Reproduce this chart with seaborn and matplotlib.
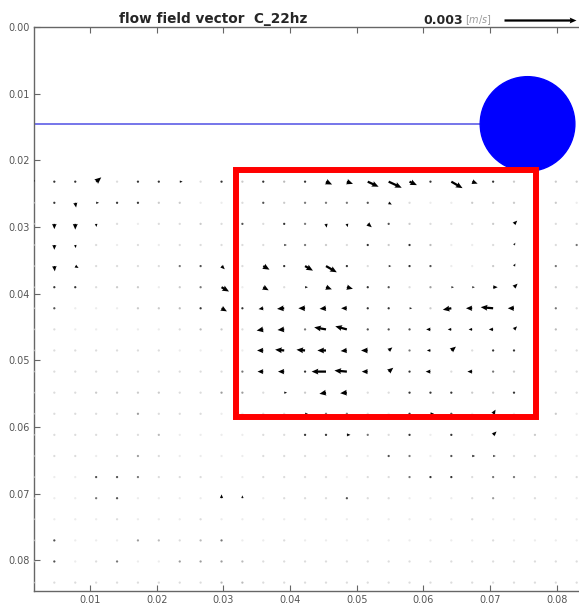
import numpy as np
import matplotlib
matplotlib.use("Agg")
import matplotlib.pyplot as plt
from matplotlib.patches import Circle, Rectangle
from matplotlib.colors import LinearSegmentedColormap, Normalize
import seaborn as sns

# PIV interrogation-window centres (m)
x_coords = [0.00152, 0.00465, 0.00779, 0.01092, 0.01406, 0.01719, 0.02032, 0.02346, 0.02659,
            0.02973, 0.03286, 0.03599, 0.03913, 0.04226, 0.04540, 0.04853, 0.05166, 0.05480,
            0.05793, 0.06107, 0.06420, 0.06733, 0.07047, 0.07360, 0.07674, 0.07987, 0.08300]
y_coords = [0.02320, 0.02637, 0.02953, 0.03270, 0.03586, 0.03903, 0.04219, 0.04536, 0.04852,
            0.05169, 0.05485, 0.05802, 0.06118, 0.06435, 0.06751, 0.07068, 0.07384, 0.07701,
            0.08017, 0.08334]

# mean speed per window, in 1e-4 m/s (rows follow y_coords, columns follow x_coords)
speed = [
    [1.5, 1.0, 1.0, 2.8, 0.4, 1.0, 1.0, 1.2, 0.4, 1.0, 0.5, 1.0, 0.6, 1.0, 2.8, 2.7, 5.0, 6.0, 3.4, 1.0, 5.4, 2.4, 1.0, 0.5, 1.0, 0.5, 0.5],
    [0.3, 1.0, 2.0, 1.2, 1.0, 1.0, 0.5, 0.5, 0.3, 0.3, 0.4, 0.9, 0.5, 0.8, 0.8, 0.8, 0.9, 1.5, 0.4, 0.3, 0.3, 0.5, 0.5, 0.5, 0.6, 0.5, 0.3],
    [0.3, 2.2, 2.4, 1.3, 0.4, 0.3, 0.4, 0.4, 0.5, 0.4, 0.9, 0.4, 1.0, 0.8, 1.6, 1.4, 2.2, 0.9, 0.5, 0.4, 0.4, 0.4, 0.5, 1.9, 0.9, 0.4, 0.4],
    [0.3, 2.0, 1.3, 0.4, 0.3, 0.4, 0.3, 0.4, 0.4, 0.4, 0.4, 0.4, 1.1, 0.8, 0.5, 0.4, 1.0, 0.5, 1.0, 0.6, 0.3, 0.3, 0.4, 1.1, 1.0, 0.4, 0.8],
    [0.3, 2.2, 1.6, 0.4, 0.4, 0.4, 0.4, 0.8, 0.9, 1.9, 0.4, 3.0, 1.0, 3.8, 5.2, 1.0, 0.4, 1.1, 1.0, 0.9, 0.3, 0.3, 0.5, 1.2, 0.9, 0.8, 0.4],
    [0.3, 1.0, 1.0, 0.4, 0.5, 0.5, 0.3, 0.5, 0.8, 3.6, 0.3, 2.6, 0.4, 1.2, 2.6, 2.6, 1.0, 0.9, 0.4, 0.7, 1.1, 1.1, 1.9, 2.1, 0.8, 0.5, 0.4],
    [0.3, 0.9, 0.3, 0.3, 0.3, 0.5, 0.5, 0.6, 1.0, 2.6, 1.0, 2.0, 3.0, 2.8, 2.7, 2.4, 1.0, 1.0, 1.1, 0.5, 3.6, 2.6, 5.2, 2.6, 0.8, 0.8, 0.4],
    [0.3, 0.4, 0.3, 0.3, 0.3, 0.3, 0.3, 0.4, 0.6, 0.5, 0.4, 2.8, 2.8, 0.8, 5.0, 5.0, 0.9, 0.9, 0.9, 1.8, 1.5, 1.5, 1.8, 1.8, 0.4, 0.6, 0.4],
    [0.3, 0.4, 0.4, 0.4, 0.4, 0.4, 0.4, 0.3, 0.3, 0.3, 0.3, 2.6, 3.8, 3.6, 3.6, 2.6, 2.8, 2.0, 0.8, 1.5, 2.5, 0.4, 1.0, 1.0, 0.4, 0.4, 0.4],
    [0.3, 0.4, 0.4, 0.4, 0.4, 0.4, 0.4, 0.4, 0.4, 0.4, 0.8, 2.4, 2.6, 1.0, 6.0, 5.2, 2.5, 2.5, 1.0, 2.0, 0.4, 2.0, 0.8, 0.5, 0.4, 0.4, 0.4],
    [0.3, 0.4, 0.4, 0.5, 0.5, 0.5, 0.5, 0.4, 0.4, 0.7, 0.7, 0.4, 1.2, 0.5, 2.8, 2.8, 0.4, 0.4, 1.0, 1.0, 1.0, 0.5, 0.5, 1.0, 0.4, 0.4, 0.4],
    [0.3, 0.4, 0.4, 0.4, 0.4, 0.7, 0.4, 0.4, 0.4, 0.3, 0.3, 0.4, 0.4, 1.2, 0.8, 0.8, 0.4, 0.3, 1.0, 1.5, 0.9, 0.3, 2.0, 0.3, 0.5, 0.5, 0.3],
    [0.3, 0.4, 0.4, 0.4, 0.4, 0.4, 0.6, 0.3, 0.3, 0.3, 0.3, 0.4, 0.4, 1.0, 1.0, 1.5, 0.8, 0.4, 1.0, 0.3, 1.0, 0.3, 2.0, 0.3, 0.5, 0.3, 0.3],
    [0.3, 0.4, 0.4, 0.3, 0.4, 0.7, 0.4, 0.3, 0.3, 0.3, 0.3, 0.4, 0.4, 0.4, 0.3, 0.4, 0.3, 0.9, 0.8, 0.3, 0.9, 1.2, 1.1, 0.4, 0.4, 0.3, 0.3],
    [0.3, 0.3, 0.3, 0.9, 0.9, 0.8, 0.4, 0.4, 0.4, 0.3, 0.3, 0.4, 0.4, 0.4, 0.4, 0.2, 0.4, 0.4, 0.8, 1.0, 1.0, 0.4, 0.8, 0.8, 0.4, 0.4, 0.4],
    [0.3, 0.3, 0.3, 0.8, 0.9, 0.3, 0.3, 0.3, 0.3, 1.6, 1.2, 0.3, 0.4, 0.4, 0.4, 0.9, 0.4, 0.4, 0.3, 0.3, 0.3, 0.4, 0.7, 0.3, 0.4, 0.3, 0.3],
    [0.3, 0.3, 0.3, 0.3, 0.4, 0.3, 0.3, 0.3, 0.4, 0.3, 0.3, 0.3, 0.3, 0.3, 0.3, 0.3, 0.3, 0.3, 0.3, 0.3, 0.3, 0.4, 0.3, 0.3, 0.3, 0.3, 0.3],
    [0.3, 0.9, 0.3, 0.3, 0.3, 0.7, 0.6, 0.4, 0.6, 0.8, 0.3, 0.3, 0.4, 0.3, 0.3, 0.3, 0.3, 0.3, 0.3, 0.3, 0.3, 0.3, 0.4, 0.3, 0.3, 0.3, 0.3],
    [0.3, 0.9, 0.3, 0.4, 0.8, 0.3, 0.3, 0.7, 0.7, 0.7, 0.6, 0.4, 0.4, 0.4, 0.4, 0.4, 0.4, 0.4, 0.4, 0.4, 0.4, 0.4, 0.4, 0.4, 0.4, 0.4, 0.4],
    [0.3, 0.4, 0.4, 0.4, 0.4, 0.4, 0.4, 0.4, 0.4, 0.6, 0.6, 0.4, 0.4, 0.4, 0.4, 0.4, 0.4, 0.4, 0.4, 0.4, 0.4, 0.4, 0.4, 0.4, 0.4, 0.4, 0.4],
]

# flow direction per window in degrees (0 = +x, 90 = toward the free surface)
direction = [
    [100, 0, 0, 40, 0, 0, 0, 0, 0, 0, 0, 0, 0, 0, 335, 340, 335, 335, 335, 0, 330, 340, 0, 0, 0, 0, 0],
    [0, 0, 280, 0, 0, 0, 0, 0, 90, 90, 90, 0, 0, 0, 0, 0, 0, 330, 0, 90, 90, 0, 0, 0, 0, 0, 0],
    [0, 270, 270, 275, 0, 0, 0, 90, 90, 90, 0, 0, 0, 0, 280, 285, 320, 0, 0, 90, 90, 90, 0, 45, 0, 0, 0],
    [0, 270, 280, 0, 0, 0, 0, 0, 0, 90, 0, 0, 0, 0, 0, 0, 0, 0, 0, 0, 0, 0, 0, 60, 0, 0, 0],
    [0, 275, 330, 0, 0, 0, 0, 0, 0, 315, 90, 330, 0, 330, 330, 0, 0, 0, 0, 0, 0, 0, 0, 60, 0, 0, 0],
    [0, 0, 0, 0, 0, 0, 0, 0, 0, 330, 0, 330, 0, 0, 340, 345, 0, 0, 0, 0, 0, 0, 0, 45, 0, 0, 0],
    [0, 0, 0, 0, 0, 0, 0, 180, 0, 330, 0, 190, 185, 180, 185, 180, 0, 0, 0, 0, 190, 180, 175, 180, 0, 0, 0],
    [0, 90, 90, 90, 0, 0, 0, 0, 0, 0, 90, 190, 185, 0, 170, 165, 0, 0, 0, 180, 180, 180, 180, 45, 0, 0, 0],
    [0, 0, 0, 0, 0, 0, 0, 0, 90, 90, 90, 180, 175, 175, 180, 185, 180, 40, 0, 180, 40, 0, 0, 0, 0, 0, 0],
    [0, 0, 0, 0, 0, 0, 0, 0, 0, 0, 0, 180, 180, 0, 180, 175, 180, 40, 0, 180, 0, 180, 0, 0, 0, 0, 0],
    [0, 0, 0, 0, 0, 0, 0, 0, 90, 0, 0, 0, 0, 0, 190, 185, 0, 0, 0, 0, 0, 0, 0, 0, 0, 0, 0],
    [0, 0, 0, 0, 0, 0, 0, 0, 90, 90, 0, 0, 0, 0, 0, 0, 0, 0, 0, 0, 0, 0, 60, 0, 0, 0, 0],
    [0, 90, 0, 0, 0, 0, 0, 0, 0, 90, 90, 0, 0, 0, 0, 0, 0, 0, 180, 0, 0, 0, 45, 0, 90, 0, 0],
    [0, 0, 0, 0, 0, 0, 0, 0, 0, 0, 90, 0, 0, 0, 0, 0, 0, 0, 0, 0, 0, 0, 0, 0, 0, 0, 0],
    [0, 90, 0, 0, 0, 0, 0, 0, 0, 90, 0, 0, 0, 0, 0, 0, 0, 0, 0, 0, 0, 0, 0, 0, 0, 0, 0],
    [0, 90, 0, 90, 0, 0, 0, 0, 0, 90, 90, 0, 0, 0, 0, 0, 0, 0, 0, 0, 0, 0, 0, 0, 0, 0, 0],
    [90, 90, 90, 90, 90, 90, 90, 90, 90, 90, 90, 90, 90, 90, 90, 90, 90, 90, 90, 90, 90, 90, 90, 90, 90, 90, 90],
    [0, 0, 0, 0, 0, 0, 0, 0, 0, 0, 0, 0, 0, 0, 0, 0, 0, 0, 0, 0, 0, 0, 0, 0, 0, 0, 0],
    [0, 0, 0, 0, 0, 0, 0, 0, 0, 0, 0, 0, 0, 0, 0, 0, 0, 0, 0, 0, 0, 0, 0, 0, 0, 0, 0],
    [0, 0, 0, 0, 0, 0, 0, 0, 0, 0, 0, 0, 0, 0, 0, 0, 0, 0, 0, 0, 0, 0, 0, 0, 0, 0, 0],
]

x_ticks = [0.01, 0.02, 0.03, 0.04, 0.05, 0.06, 0.07, 0.08]
y_ticks = [0.00, 0.01, 0.02, 0.03, 0.04, 0.05, 0.06, 0.07, 0.08]

surface_level = 0.01455            # free-surface height (m)
bubble_center = (0.07563, 0.01455)
bubble_radius = 0.0071
roi_x = (0.0319, 0.07689)          # highlighted region (m)
roi_y = (0.02145, 0.0585)
key_speed = 0.003                  # reference arrow (m/s)
title = "flow field vector  C_22hz"

sns.set_theme(style="ticks", rc={
    "xtick.direction": "in", "ytick.direction": "in",
    "xtick.top": True, "ytick.right": True,
    "xtick.major.size": 4, "ytick.major.size": 4,
    "xtick.major.width": 0.8, "ytick.major.width": 0.8,
    "xtick.color": "#666666", "ytick.color": "#666666",
    "axes.edgecolor": "#666666", "axes.linewidth": 1.0,
})
plt.rcParams["font.family"] = ["DejaVu Sans"]

W, H = 579, 606
fig = plt.figure(figsize=(W / 100, H / 100), dpi=100)
ax = fig.add_axes([34 / W, 15 / H, (597 - 34) / W, 564 / H])

X, Y = np.meshgrid(x_coords, y_coords)
S = np.array(speed) * 1e-4
A = np.deg2rad(np.array(direction, dtype=float))
U = S * np.cos(A)
V = -S * np.sin(A)   # depth axis points downward

# very slow windows fade to grey, as the thin arrows do on screen
shade = LinearSegmentedColormap.from_list("shade", ["#ececec", "#b4b4b4", "#3a3a3a", "#000000"])
Q = ax.quiver(X, Y, U, V, S, cmap=shade, norm=Normalize(0.3e-4, 1.3e-4, clip=True),
              angles="xy", scale_units="xy", scale=0.2778,
              width=0.0040, headwidth=2.6, headlength=3.0, headaxislength=2.7,
              minlength=1.1, zorder=3)

ax.plot([0.0, bubble_center[0]], [surface_level, surface_level],
        color="#6a6ae8", lw=1.3, zorder=2)
ax.add_patch(Circle(bubble_center, bubble_radius, color="blue", zorder=4))
ax.add_patch(Rectangle((roi_x[0], roi_y[0]), roi_x[1] - roi_x[0], roi_y[1] - roi_y[0],
                       fill=False, edgecolor="red", lw=4.3, zorder=5))

ax.set_xlim(0.0016, 0.08605)
ax.set_ylim(0.0846, 0.0)
ax.set_xticks(x_ticks)
ax.set_yticks(y_ticks)
ax.set_xticklabels([f"{t:.2f}" for t in x_ticks], fontsize=7, color="#555555")
ax.set_yticklabels([f"{t:.2f}" for t in y_ticks], fontsize=7, color="#555555")
ax.tick_params(pad=3)

fig.text(119 / W, 1 - 19 / H, title, fontsize=9.8, fontweight="bold",
         ha="left", va="center")
ax.quiverkey(Q, 504 / W, 1 - 20 / H, key_speed, label="", coordinates="figure",
             labelpos="W", color="black")
fig.text(463 / W, 1 - 20 / H, f"{key_speed:.3f}", fontsize=9, fontweight="bold",
         ha="right", va="center")
fig.text(465 / W, 1 - 20 / H, r"$[m/s]$", fontsize=7, color="#999999",
         ha="left", va="center")

fig.savefig("out.png", dpi=100)
